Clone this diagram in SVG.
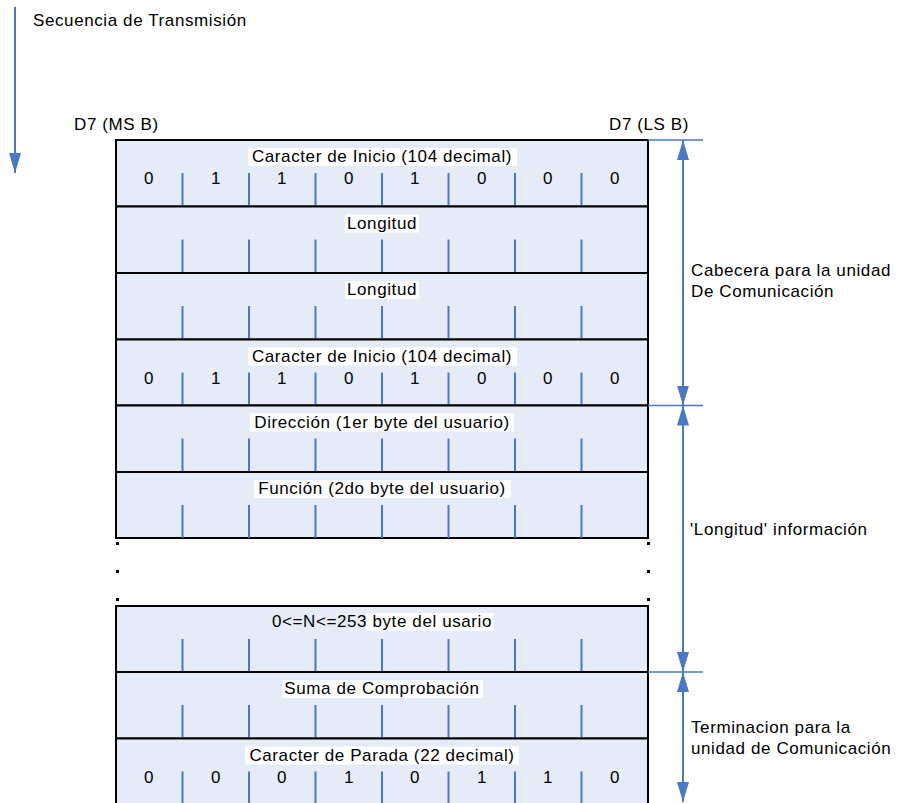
<svg xmlns="http://www.w3.org/2000/svg" width="899" height="803" viewBox="0 0 899 803">
<style>
text{font-family:"Liberation Sans",Arial,sans-serif;font-size:17px;fill:#000;letter-spacing:0.6px}
.t{text-anchor:middle}
.d{text-anchor:middle}
.row{fill:#E6ECF7;stroke:#000;stroke-width:2}
.bg{fill:#fff}
.div{stroke:#4A78C6;stroke-width:2;fill:none}
.arr{stroke:#4A78C6;stroke-width:2;fill:none}
.tick{stroke:#4A78C6;stroke-width:1.5;fill:none}
.dot{fill:#000}
</style>
<defs>
<marker id="ah" viewBox="0 0 20 12" refX="20" refY="6" markerWidth="20" markerHeight="12" markerUnits="userSpaceOnUse" orient="auto-start-reverse">
<path d="M0,0 L20,6 L0,12 z" fill="#4A78C6"/>
</marker>
</defs>

<g id="labels">
<text x="33" y="26">Secuencia de Transmisión</text>
<text x="74" y="130">D7 (MS B)</text>
<text x="609" y="130">D7 (LS B)</text>
<text x="691" y="276">Cabecera para la unidad</text>
<text x="691" y="297">De Comunicación</text>
<text x="690" y="535">'Longitud' información</text>
<text x="691" y="733">Terminacion para la</text>
<text x="691" y="754">unidad de Comunicación</text>
</g>

<g id="row1">
<rect class="row" x="116" y="140" width="532" height="66.5"/>
<rect class="bg" x="248" y="148" width="269" height="18"/>
<text class="t" x="382" y="162">Caracter de Inicio (104 decimal)</text>
<path class="div" d="M182.5,173V206.5M249,173V206.5M315.5,173V206.5M382,173V206.5M448.5,173V206.5M515,173V206.5M581.5,173V206.5"/>
<text class="d" y="184"><tspan x="149">0</tspan><tspan x="216">1</tspan><tspan x="282">1</tspan><tspan x="349">0</tspan><tspan x="415">1</tspan><tspan x="482">0</tspan><tspan x="548">0</tspan><tspan x="615">0</tspan></text>
</g>

<g id="row2">
<rect class="row" x="116" y="206.5" width="532" height="66.5"/>
<rect class="bg" x="345" y="214.5" width="74" height="18"/>
<text class="t" x="382" y="228.5">Longitud</text>
<path class="div" d="M182.5,239.5V273M249,239.5V273M315.5,239.5V273M382,239.5V273M448.5,239.5V273M515,239.5V273M581.5,239.5V273"/>
</g>

<g id="row3">
<rect class="row" x="116" y="273" width="532" height="66.5"/>
<rect class="bg" x="345" y="281" width="74" height="18"/>
<text class="t" x="382" y="295">Longitud</text>
<path class="div" d="M182.5,306V339.5M249,306V339.5M315.5,306V339.5M382,306V339.5M448.5,306V339.5M515,306V339.5M581.5,306V339.5"/>
</g>

<g id="row4">
<rect class="row" x="116" y="339.5" width="532" height="66"/>
<rect class="bg" x="248" y="347.5" width="269" height="18"/>
<text class="t" x="382" y="361.5">Caracter de Inicio (104 decimal)</text>
<path class="div" d="M182.5,372.5V405.5M249,372.5V405.5M315.5,372.5V405.5M382,372.5V405.5M448.5,372.5V405.5M515,372.5V405.5M581.5,372.5V405.5"/>
<text class="d" y="383.5"><tspan x="149">0</tspan><tspan x="216">1</tspan><tspan x="282">1</tspan><tspan x="349">0</tspan><tspan x="415">1</tspan><tspan x="482">0</tspan><tspan x="548">0</tspan><tspan x="615">0</tspan></text>
</g>

<g id="row5">
<rect class="row" x="116" y="405.5" width="532" height="66.5"/>
<rect class="bg" x="250" y="413.5" width="264" height="18"/>
<text class="t" x="382" y="427.5">Dirección (1er byte del usuario)</text>
<path class="div" d="M182.5,438.5V472M249,438.5V472M315.5,438.5V472M382,438.5V472M448.5,438.5V472M515,438.5V472M581.5,438.5V472"/>
</g>

<g id="row6">
<rect class="row" x="116" y="472" width="532" height="66"/>
<rect class="bg" x="254" y="480" width="257" height="18"/>
<text class="t" x="382" y="494">Función (2do byte del usuario)</text>
<path class="div" d="M182.5,505V538M249,505V538M315.5,505V538M382,505V538M448.5,505V538M515,505V538M581.5,505V538"/>
</g>

<g id="ellipsis">
<rect class="dot" x="116" y="542" width="3" height="3"/>
<rect class="dot" x="647" y="542" width="3" height="3"/>
<rect class="dot" x="116" y="570" width="3" height="3"/>
<rect class="dot" x="647" y="570" width="3" height="3"/>
<rect class="dot" x="116" y="598" width="3" height="3"/>
<rect class="dot" x="647" y="598" width="3" height="3"/>
</g>

<g id="row7">
<rect class="row" x="116" y="606" width="532" height="66"/>
<rect class="bg" x="366" y="613" width="128" height="18"/>
<text class="t" x="382" y="627">0&lt;=N&lt;=253 byte del usario</text>
<path class="div" d="M182.5,639V672M249,639V672M315.5,639V672M382,639V672M448.5,639V672M515,639V672M581.5,639V672"/>
</g>

<g id="row8">
<rect class="row" x="116" y="672" width="532" height="66.5"/>
<rect class="bg" x="282" y="680" width="201" height="18"/>
<text class="t" x="382" y="694">Suma de Comprobación</text>
<path class="div" d="M182.5,705V738.5M249,705V738.5M315.5,705V738.5M382,705V738.5M448.5,705V738.5M515,705V738.5M581.5,705V738.5"/>
</g>

<g id="row9">
<rect class="row" x="116" y="738.5" width="532" height="70"/>
<rect class="bg" x="245" y="746.5" width="274" height="18"/>
<text class="t" x="382" y="760.5">Caracter de Parada (22 decimal)</text>
<path class="div" d="M182.5,771.5V803M249,771.5V803M315.5,771.5V803M382,771.5V803M448.5,771.5V803M515,771.5V803M581.5,771.5V803"/>
<text class="d" y="782.5"><tspan x="149">0</tspan><tspan x="216">0</tspan><tspan x="282">0</tspan><tspan x="349">1</tspan><tspan x="415">0</tspan><tspan x="482">1</tspan><tspan x="548">1</tspan><tspan x="615">0</tspan></text>
</g>

<g id="connectors">
<line class="arr" x1="15" y1="7" x2="15" y2="173" marker-end="url(#ah)"/>
<path class="tick" d="M648,140H703M648,405.5H703M648,672H703"/>
<line class="arr" x1="683" y1="140" x2="683" y2="405.5" marker-start="url(#ah)" marker-end="url(#ah)"/>
<line class="arr" x1="683" y1="405.5" x2="683" y2="672" marker-start="url(#ah)" marker-end="url(#ah)"/>
<line class="arr" x1="683" y1="672" x2="683" y2="802" marker-start="url(#ah)" marker-end="url(#ah)"/>
</g>
</svg>
